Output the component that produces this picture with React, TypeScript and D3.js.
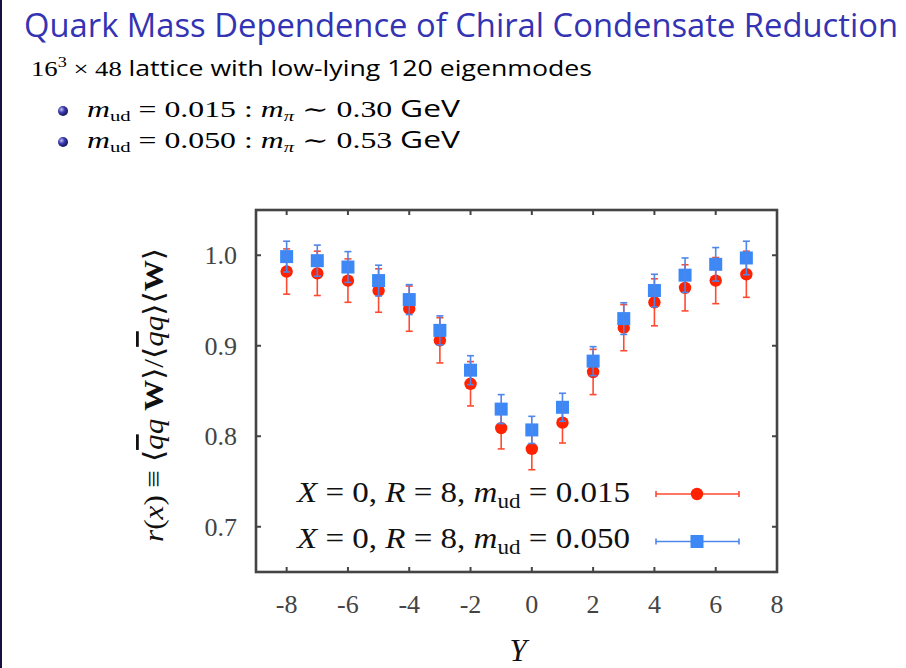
import React from "react";
import * as d3 from "d3";

const yPos: number[] = [-8, -7, -6, -5, -4, -3, -2, -1, 0, 1, 2, 3, 4, 5, 6, 7];
const r015: number[] = [0.982, 0.980, 0.972, 0.961, 0.941, 0.906, 0.858, 0.809, 0.786, 0.815, 0.871, 0.920, 0.948, 0.964, 0.972, 0.979];
const e015: number[] = [0.025, 0.0245, 0.024, 0.024, 0.025, 0.025, 0.0245, 0.023, 0.023, 0.0225, 0.025, 0.0255, 0.026, 0.0255, 0.0255, 0.0255];
const r050: number[] = [0.9985, 0.994, 0.987, 0.972, 0.951, 0.917, 0.873, 0.830, 0.807, 0.832, 0.883, 0.930, 0.961, 0.978, 0.990, 0.997];
const e050: number[] = [0.017, 0.0172, 0.017, 0.017, 0.0165, 0.016, 0.016, 0.016, 0.015, 0.0155, 0.016, 0.0175, 0.018, 0.019, 0.0185, 0.0185];
const xTicks: number[] = [-8, -6, -4, -2, 0, 2, 4, 6, 8];
const yTicks: number[] = [0.7, 0.8, 0.9, 1.0];

const W = 906;
const H = 668;
const L = 256, R = 777, T = 210, B = 572;

export default function App() {
  const x = d3.scaleLinear().domain([-9, 8]).range([L, R]);
  const y = d3.scaleLinear().domain([0.65, 1.05]).range([B, T]);
  const serif = "'Liberation Serif', 'DejaVu Serif', serif";
  const sans = "'Open Sans', 'DejaVu Sans', sans-serif";
  const red = "#ff2200";
  const redBar = "#ff4a30";
  const blue = "#3b88f6";
  const blueBar = "#4f86ea";
  const cap = 3.5;
  const tickLen = 5;
  const frame = "#444";

  const errBar = (cx: number, v: number, e: number, color: string, key: string) => (
    <g key={key} stroke={color} strokeWidth={1.6}>
      <line x1={cx} x2={cx} y1={y(v - e)} y2={y(v + e)} />
      <line x1={cx - cap} x2={cx + cap} y1={y(v - e)} y2={y(v - e)} />
      <line x1={cx - cap} x2={cx + cap} y1={y(v + e)} y2={y(v + e)} />
    </g>
  );

  return (
    <svg width={W} height={H} style={{ position: "absolute", left: 0, top: 0, background: "#fff" }}>
      <defs>
        <radialGradient id="ball" cx="0.35" cy="0.35" r="0.7">
          <stop offset="0" stopColor="#c0c0f4" />
          <stop offset="0.45" stopColor="#3b3bb0" />
          <stop offset="1" stopColor="#101050" />
        </radialGradient>
      </defs>
      <rect x={0} y={0} width={W} height={H} fill="#fff" />
      <line x1={1} x2={1} y1={0} y2={H} stroke="#1a1040" strokeWidth={2} />

      {/* Title */}
      <text x={24} y={37} fontFamily={sans} fontSize={33} fill="#3333b3" textLength={874} lengthAdjust="spacingAndGlyphs">
        Quark Mass Dependence of Chiral Condensate Reduction
      </text>
      {/* Subtitle */}
      <text x={31} y={76} fontSize={22} fill="#000" textLength={561} lengthAdjust="spacingAndGlyphs">
        <tspan fontFamily={serif}>16</tspan>
        <tspan fontFamily={serif} fontSize={15} dy={-9}>3</tspan>
        <tspan fontFamily={serif} dy={9}> × 48 </tspan>
        <tspan fontFamily={sans}>lattice with low-lying 120 eigenmodes</tspan>
      </text>
      {/* Bullets */}
      {[
        { cy: 111, base: 117, m: "0.015", p: "0.30" },
        { cy: 142, base: 148, m: "0.050", p: "0.53" },
      ].map((b, i) => (
        <g key={"b" + i}>
          <circle cx={63} cy={b.cy} r={5} fill="url(#ball)" />
          <text x={87} y={b.base} fontSize={23} fill="#000" fontFamily={serif} textLength={373} lengthAdjust="spacingAndGlyphs">
            <tspan fontStyle="italic">m</tspan>
            <tspan fontSize={15} dy={4}>ud</tspan>
            <tspan dy={-4}>{" = " + b.m + " : "}</tspan>
            <tspan fontStyle="italic">m</tspan>
            <tspan fontSize={15} dy={4} fontStyle="italic">π</tspan>
            <tspan dy={-4}>{" ∼ " + b.p + " "}</tspan>
            <tspan fontFamily={sans}>GeV</tspan>
          </text>
        </g>
      ))}

      {/* Frame */}
      <rect x={L} y={T} width={R - L} height={B - T} fill="none" stroke={frame} strokeWidth={2.6} />
      {xTicks.map((t) => (
        <g key={"xt" + t} stroke={frame} strokeWidth={2}>
          <line x1={x(t)} x2={x(t)} y1={B} y2={B - tickLen} />
          <line x1={x(t)} x2={x(t)} y1={T} y2={T + tickLen} />
        </g>
      ))}
      {yTicks.map((t) => (
        <g key={"yt" + t} stroke={frame} strokeWidth={2}>
          <line x1={L} x2={L + tickLen} y1={y(t)} y2={y(t)} />
          <line x1={R} x2={R - tickLen} y1={y(t)} y2={y(t)} />
        </g>
      ))}
      {xTicks.map((t) => (
        <text key={"xl" + t} x={x(t)} y={613} textAnchor="middle" fontFamily={serif} fontSize={26} fill="#444">
          {String(t)}
        </text>
      ))}
      {yTicks.map((t) => (
        <text key={"yl" + t} x={237} y={y(t) + 9} textAnchor="end" fontFamily={serif} fontSize={26} fill="#444">
          {t.toFixed(1)}
        </text>
      ))}

      {/* Axis labels */}
      <text x={518} y={661} textAnchor="middle" fontFamily={serif} fontStyle="italic" fontSize={31} fill="#111">
        Y
      </text>
      <text
        transform={`translate(163,395) rotate(-90)`}
        textAnchor="middle"
        fontFamily={serif}
        fontSize={28}
        fill="#111"
        textLength={294}
        lengthAdjust="spacingAndGlyphs"
      >
        <tspan fontStyle="italic">r</tspan>
        <tspan>(</tspan>
        <tspan fontStyle="italic">x</tspan>
        <tspan>) ≡ ⟨</tspan>
        <tspan fontStyle="italic" style={{ textDecoration: "overline" }}>q</tspan>
        <tspan fontStyle="italic">q</tspan>
        <tspan> </tspan>
        <tspan fontWeight="bold">W</tspan>
        <tspan>⟩/⟨</tspan>
        <tspan fontStyle="italic" style={{ textDecoration: "overline" }}>q</tspan>
        <tspan fontStyle="italic">q</tspan>
        <tspan>⟩⟨</tspan>
        <tspan fontWeight="bold">W</tspan>
        <tspan>⟩</tspan>
      </text>

      {/* Series m=0.015 */}
      {yPos.map((p, i) => (
        <g key={"r" + i}>
          {errBar(x(p), r015[i], e015[i], redBar, "re" + i)}
          <circle cx={x(p)} cy={y(r015[i])} r={6.2} fill={red} />
        </g>
      ))}
      {/* Series m=0.050 */}
      {yPos.map((p, i) => (
        <g key={"s" + i}>
          <rect x={x(p) - 6.5} y={y(r050[i]) - 6.5} width={13} height={13} fill={blue} />
          {errBar(x(p), r050[i], e050[i], blueBar, "be" + i)}
        </g>
      ))}

      {/* Legend */}
      <text x={297} y={502} fontFamily={serif} fontSize={30} fill="#111" textLength={333} lengthAdjust="spacingAndGlyphs">
        <tspan fontStyle="italic">X</tspan>
        <tspan>{" = 0, "}</tspan>
        <tspan fontStyle="italic">R</tspan>
        <tspan>{" = 8, "}</tspan>
        <tspan fontStyle="italic">m</tspan>
        <tspan fontSize={21} dy={6}>ud</tspan>
        <tspan dy={-6}>{" = 0.015"}</tspan>
      </text>
      <text x={297} y={548} fontFamily={serif} fontSize={30} fill="#111" textLength={333} lengthAdjust="spacingAndGlyphs">
        <tspan fontStyle="italic">X</tspan>
        <tspan>{" = 0, "}</tspan>
        <tspan fontStyle="italic">R</tspan>
        <tspan>{" = 8, "}</tspan>
        <tspan fontStyle="italic">m</tspan>
        <tspan fontSize={21} dy={6}>ud</tspan>
        <tspan dy={-6}>{" = 0.050"}</tspan>
      </text>
      <g stroke={redBar} strokeWidth={1.6}>
        <line x1={656} x2={739} y1={494} y2={494} />
        <line x1={656} x2={656} y1={491} y2={497} />
        <line x1={739} x2={739} y1={491} y2={497} />
      </g>
      <circle cx={697} cy={494} r={6.2} fill={red} />
      <g stroke={blueBar} strokeWidth={1.6}>
        <line x1={656} x2={739} y1={541.5} y2={541.5} />
        <line x1={656} x2={656} y1={538.5} y2={544.5} />
        <line x1={739} x2={739} y1={538.5} y2={544.5} />
      </g>
      <rect x={697 - 6.5} y={541.5 - 6.5} width={13} height={13} fill={blue} />
    </svg>
  );
}
